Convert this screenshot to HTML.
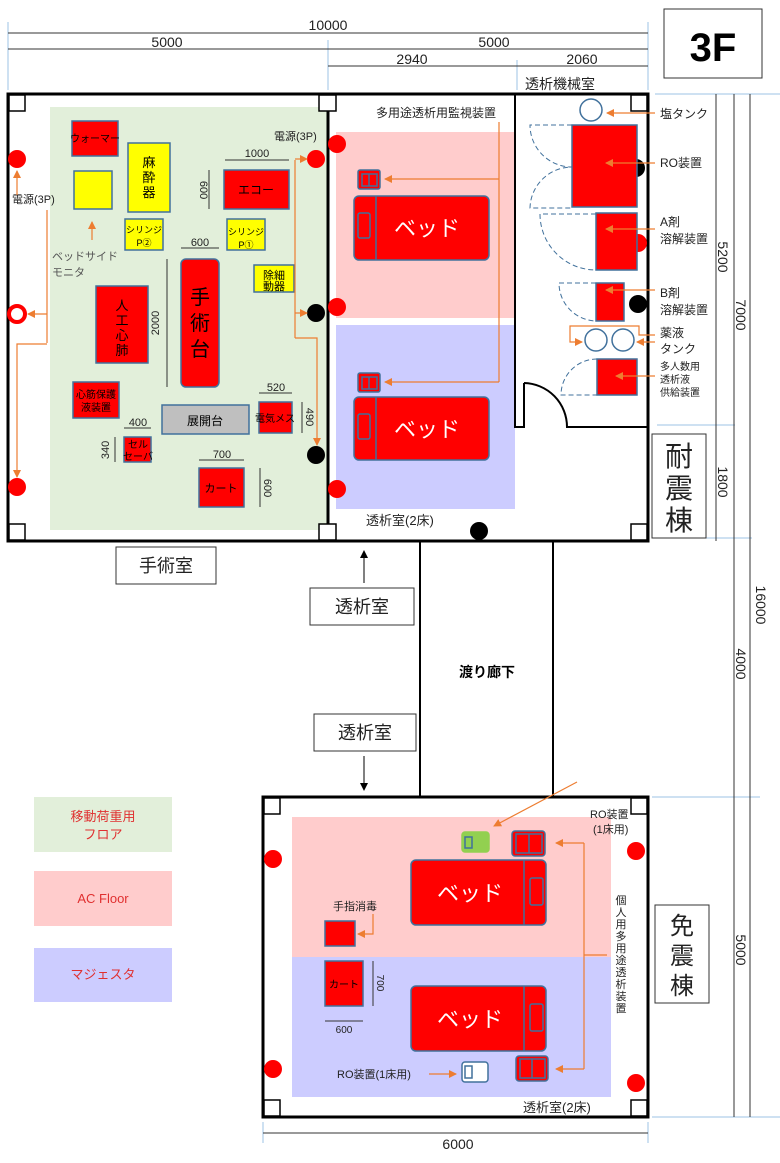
<!DOCTYPE html>
<html><head><meta charset="utf-8"><style>
body{margin:0;background:#fff}
svg{display:block}
text{font-family:"Liberation Sans","Noto Sans CJK JP",sans-serif}
</style></head><body>
<svg width="780" height="1163" viewBox="0 0 780 1163" xmlns="http://www.w3.org/2000/svg" fill="#222">
<defs>
<marker id="a" markerWidth="8" markerHeight="8" refX="7" refY="4" orient="auto" markerUnits="userSpaceOnUse"><path d="M0,0L8,4L0,8z" fill="#ed7d31"/></marker>
<marker id="k" markerWidth="8" markerHeight="8" refX="7" refY="4" orient="auto" markerUnits="userSpaceOnUse"><path d="M0,0L8,4L0,8z" fill="#000"/></marker>
</defs>
<g stroke="#9dc3e6" stroke-width="1">
<line x1="8" y1="22" x2="8" y2="90"/><line x1="328" y1="40" x2="328" y2="90"/><line x1="517" y1="60" x2="517" y2="90"/><line x1="648" y1="22" x2="648" y2="90"/>
<line x1="655" y1="94" x2="780" y2="94"/><line x1="657" y1="425" x2="735" y2="425"/><line x1="655" y1="538" x2="752" y2="538"/><line x1="652" y1="797" x2="760" y2="797"/><line x1="652" y1="1117" x2="780" y2="1117"/>
<line x1="263" y1="1122" x2="263" y2="1143"/><line x1="648" y1="1122" x2="648" y2="1143"/>
</g>
<g stroke="#333" stroke-width="1">
<line x1="8" y1="33" x2="648" y2="33"/><line x1="8" y1="49" x2="648" y2="49"/><line x1="328" y1="66" x2="648" y2="66"/>
<line x1="716" y1="94" x2="716" y2="541"/><line x1="734" y1="94" x2="734" y2="1117"/><line x1="750" y1="94" x2="750" y2="1117"/>
<line x1="263" y1="1133" x2="648" y2="1133"/>
</g>
<g font-size="14" text-anchor="middle">
<text x="328" y="30">10000</text><text x="167" y="47">5000</text><text x="494" y="47">5000</text>
<text x="412" y="64">2940</text><text x="582" y="64">2060</text>
<text x="560" y="89">透析機械室</text>
<text x="458" y="1149">6000</text>
</g>
<g font-size="14" text-anchor="middle">
<text transform="translate(718,257) rotate(90)">5200</text>
<text transform="translate(736,315) rotate(90)">7000</text>
<text transform="translate(718,482) rotate(90)">1800</text>
<text transform="translate(756,605) rotate(90)">16000</text>
<text transform="translate(736,664) rotate(90)">4000</text>
<text transform="translate(736,950) rotate(90)">5000</text>
</g>
<rect x="664" y="9" width="98" height="69" fill="#fff" stroke="#333"/>
<text x="713" y="61" font-size="40" font-weight="bold" text-anchor="middle" fill="#000">3F</text>
<rect x="652" y="434" width="54" height="104" fill="#fff" stroke="#333"/>
<g font-size="28" text-anchor="middle"><text x="679" y="466">耐</text><text x="679" y="498">震</text><text x="679" y="530">棟</text></g>
<rect x="655" y="905" width="54" height="98" fill="#fff" stroke="#333"/>
<g font-size="24" text-anchor="middle"><text x="682" y="934">免</text><text x="682" y="964">震</text><text x="682" y="994">棟</text></g>

<rect x="50" y="107" width="277" height="423" fill="#e2efda"/>
<rect x="336" y="132" width="179" height="186" fill="#ffcccc"/>
<rect x="336" y="325" width="179" height="184" fill="#ccccff"/>
<rect x="8" y="94" width="640" height="447" fill="none" stroke="#000" stroke-width="3"/>
<line x1="328" y1="94" x2="328" y2="541" stroke="#000" stroke-width="3"/>
<g fill="#fff" stroke="#000" stroke-width="1.5">
<rect x="9" y="95" width="16" height="16"/><rect x="319" y="95" width="17" height="16"/><rect x="631" y="95" width="16" height="16"/>
<rect x="9" y="524" width="16" height="16"/><rect x="319" y="524" width="17" height="16"/><rect x="631" y="524" width="16" height="16"/>
</g>
<path d="M515,94V427H524V383" fill="none" stroke="#000" stroke-width="2"/>
<path d="M524,383A44,44 0 0 1 567,427H648" fill="none" stroke="#000" stroke-width="2"/>

<g stroke="#41719c" stroke-width="1.5">
<rect x="72" y="121" width="46" height="35" fill="#f00"/>
<rect x="74" y="171" width="38" height="38" fill="#ff0"/>
<rect x="128" y="143" width="42" height="69" fill="#ff0"/>
<rect x="125" y="219" width="38" height="31" fill="#ff0"/>
<rect x="227" y="219" width="38" height="31" fill="#ff0"/>
<rect x="224" y="170" width="65" height="39" fill="#f00"/>
<rect x="181" y="259" width="38" height="128" rx="5" fill="#f00"/>
<rect x="254" y="265" width="40" height="27" fill="#ff0"/>
<rect x="96" y="286" width="52" height="77" fill="#f00"/>
<rect x="73" y="382" width="46" height="36" fill="#f00"/>
<rect x="162" y="405" width="87" height="29" fill="#bfbfbf"/>
<rect x="259" y="402" width="33" height="31" fill="#f00"/>
<rect x="124" y="437" width="27" height="25" fill="#f00"/>
<rect x="199" y="468" width="45" height="39" fill="#f00"/>
</g>
<g font-size="10" text-anchor="middle" fill="#000">
<text x="95" y="142">ウォーマー</text>
<text x="149" y="167" font-size="13">麻</text><text x="149" y="182" font-size="13">酔</text><text x="149" y="197" font-size="13">器</text>
<text x="144" y="233" font-size="9">シリンジ</text><text x="144" y="246" font-size="9">P②</text>
<text x="246" y="235" font-size="9">シリンジ</text><text x="246" y="248" font-size="9">P①</text>
<text x="256" y="194" font-size="12">エコー</text>
<text x="274" y="279" font-size="11">除細</text><text x="274" y="290" font-size="11">動器</text>
<text x="122" y="310" font-size="13">人</text><text x="122" y="325" font-size="13">工</text><text x="122" y="340" font-size="13">心</text><text x="122" y="355" font-size="13">肺</text>
<text x="200" y="304" font-size="20">手</text><text x="200" y="330" font-size="20">術</text><text x="200" y="356" font-size="20">台</text>
<text x="96" y="398">心筋保護</text><text x="96" y="411">液装置</text>
<text x="205" y="425" font-size="12">展開台</text>
<text x="275" y="422" font-size="10">電気メス</text>
<text x="138" y="448">セル</text><text x="138" y="460">セーバ</text>
<text x="221" y="492" font-size="11">カート</text>
</g>
<g stroke="#333" stroke-width="1">
<line x1="225" y1="160" x2="289" y2="160"/><line x1="209" y1="170" x2="209" y2="209"/>
<line x1="181" y1="248" x2="219" y2="248"/><line x1="167" y1="259" x2="167" y2="387"/>
<line x1="259" y1="393" x2="292" y2="393"/><line x1="302" y1="402" x2="302" y2="433"/>
<line x1="124" y1="428" x2="151" y2="428"/><line x1="115" y1="437" x2="115" y2="462"/>
<line x1="199" y1="460" x2="244" y2="460"/><line x1="260" y1="468" x2="260" y2="507"/>
</g>
<g font-size="11" text-anchor="middle">
<text x="257" y="157">1000</text><text x="200" y="246">600</text><text x="276" y="391">520</text><text x="138" y="426">400</text><text x="222" y="458">700</text>
<text transform="translate(200,190) rotate(90)">600</text>
<text transform="translate(159,323) rotate(-90)">2000</text>
<text transform="translate(306,417) rotate(90)">490</text>
<text transform="translate(109,450) rotate(-90)">340</text>
<text transform="translate(264,488) rotate(90)">600</text>
</g>
<g font-size="11"><text x="274" y="140">電源(3P)</text><text x="12" y="203">電源(3P)</text>
<text x="52" y="260" fill="#555">ベッドサイド</text><text x="52" y="276" fill="#555">モニタ</text></g>
<g fill="#f00"><circle cx="17" cy="159" r="9"/><circle cx="17" cy="487" r="9"/><circle cx="316" cy="159" r="9"/><circle cx="337" cy="144" r="9"/><circle cx="337" cy="307" r="9"/><circle cx="337" cy="489" r="9"/><circle cx="638" cy="243" r="9"/></g>
<circle cx="17" cy="314" r="8" fill="#fff" stroke="#f00" stroke-width="4"/>
<g fill="#000"><circle cx="316" cy="313" r="9"/><circle cx="316" cy="455" r="9"/><circle cx="479" cy="531" r="9"/><circle cx="636" cy="168" r="9"/><circle cx="638" cy="304" r="9"/></g>
<g stroke="#ed7d31" stroke-width="1.2" fill="none">
<line x1="17" y1="195" x2="17" y2="171" marker-end="url(#a)"/>
<path d="M47,210V343"/><line x1="47" y1="314" x2="28" y2="314" marker-end="url(#a)"/>
<path d="M47,344H17V477" marker-end="url(#a)"/>
<line x1="92" y1="240" x2="92" y2="222" marker-end="url(#a)"/>
<path d="M295,160V338"/><line x1="295" y1="159" x2="307" y2="159" marker-end="url(#a)"/><line x1="295" y1="313" x2="307" y2="313" marker-end="url(#a)"/>
<path d="M295,338H317V445" marker-end="url(#a)"/>
<path d="M499,122V382"/><line x1="499" y1="179" x2="385" y2="179" marker-end="url(#a)"/><line x1="499" y1="382" x2="385" y2="382" marker-end="url(#a)"/>
</g>
<text x="376" y="117" font-size="12">多用途透析用監視装置</text>
<g stroke="#41719c" stroke-width="1.5" fill="#f00">
<rect x="358" y="170" width="22" height="19" rx="2"/><path d="M369,174V186M362,174H377V186H362z" fill="none"/>
<rect x="354" y="196" width="135" height="64" rx="5"/><line x1="376" y1="196" x2="376" y2="260"/><rect x="358" y="213" width="12" height="25" rx="2"/>
<rect x="358" y="373" width="22" height="19" rx="2"/><path d="M369,377V389M362,377H377V389H362z" fill="none"/>
<rect x="354" y="397" width="135" height="63" rx="5"/><line x1="376" y1="397" x2="376" y2="460"/><rect x="358" y="414" width="12" height="25" rx="2"/>
</g>
<g font-size="22" fill="#fff" text-anchor="middle"><text x="427" y="236">ベッド</text><text x="427" y="437">ベッド</text></g>
<text x="366" y="525" font-size="13">透析室(2床)</text>
<g stroke="#41719c" stroke-width="1" stroke-dasharray="5,3" fill="none">
<path d="M572,125H530A42,42 0 0 0 572,167A42,42 0 0 0 530,208H572"/>
<path d="M596,214H540A56,56 0 0 0 596,270"/>
<path d="M596,283H559A38,38 0 0 0 596,321"/>
<path d="M597,359A36,36 0 0 0 561,395H597"/>
</g>
<g stroke="#41719c" stroke-width="1.5" fill="#f00">
<rect x="572" y="125" width="65" height="82"/><rect x="596" y="213" width="41" height="57"/><rect x="596" y="283" width="28" height="38"/><rect x="597" y="359" width="40" height="36"/>
</g>
<g stroke="#41719c" stroke-width="1.5" fill="#fff"><circle cx="591" cy="110" r="11"/><circle cx="596" cy="340" r="11"/><circle cx="623" cy="340" r="11"/></g>
<g stroke="#ed7d31" stroke-width="1.2" fill="none">
<line x1="655" y1="113" x2="607" y2="113" marker-end="url(#a)"/>
<line x1="655" y1="163" x2="606" y2="163" marker-end="url(#a)"/>
<line x1="655" y1="229" x2="606" y2="229" marker-end="url(#a)"/>
<line x1="655" y1="290" x2="606" y2="290" marker-end="url(#a)"/>
<path d="M655,335H639V326H570V342H582" marker-end="url(#a)"/>
<line x1="655" y1="342" x2="637" y2="342" marker-end="url(#a)"/>
<line x1="655" y1="376" x2="616" y2="376" marker-end="url(#a)"/>
</g>
<g font-size="12"><text x="660" y="118">塩タンク</text><text x="660" y="167">RO装置</text>
<text x="660" y="226">A剤</text><text x="660" y="243">溶解装置</text>
<text x="660" y="297">B剤</text><text x="660" y="314">溶解装置</text>
<text x="660" y="337">薬液</text><text x="660" y="353">タンク</text>
<text x="660" y="370" font-size="10">多人数用</text><text x="660" y="383" font-size="10">透析液</text><text x="660" y="396" font-size="10">供給装置</text></g>

<g stroke="#000" stroke-width="2"><line x1="420" y1="541" x2="420" y2="797"/><line x1="553" y1="541" x2="553" y2="797"/></g>
<text x="487" y="677" font-size="14" font-weight="bold" text-anchor="middle" fill="#000">渡り廊下</text>
<g fill="#fff" stroke="#333"><rect x="116" y="547" width="100" height="37"/><rect x="310" y="588" width="104" height="37"/><rect x="314" y="714" width="102" height="37"/></g>
<g font-size="18" text-anchor="middle"><text x="166" y="572">手術室</text><text x="362" y="613">透析室</text><text x="365" y="739">透析室</text></g>
<line x1="364" y1="583" x2="364" y2="551" stroke="#000" marker-end="url(#k)"/>
<line x1="364" y1="756" x2="364" y2="790" stroke="#000" marker-end="url(#k)"/>

<rect x="34" y="797" width="138" height="55" fill="#e2efda"/><rect x="34" y="871" width="138" height="55" fill="#ffcccc"/><rect x="34" y="948" width="138" height="54" fill="#ccccff"/>
<g font-size="13" text-anchor="middle" fill="#e03030"><text x="103" y="821">移動荷重用</text><text x="103" y="839">フロア</text><text x="103" y="903">AC Floor</text><text x="103" y="979">マジェスタ</text></g>

<rect x="292" y="817" width="319" height="140" fill="#ffcccc"/><rect x="292" y="957" width="319" height="140" fill="#ccccff"/>
<rect x="263" y="797" width="385" height="320" fill="none" stroke="#000" stroke-width="3"/>
<g fill="#fff" stroke="#000" stroke-width="1.5"><rect x="264" y="798" width="16" height="16"/><rect x="631" y="798" width="16" height="16"/><rect x="264" y="1100" width="16" height="16"/><rect x="631" y="1100" width="16" height="16"/></g>
<g fill="#f00"><circle cx="273" cy="859" r="9"/><circle cx="273" cy="1069" r="9"/><circle cx="636" cy="851" r="9"/><circle cx="636" cy="1083" r="9"/></g>
<g stroke="#41719c" stroke-width="1.5" fill="#f00">
<rect x="411" y="860" width="135" height="65" rx="5"/><line x1="524" y1="860" x2="524" y2="925"/><rect x="530" y="878" width="13" height="27" rx="2"/>
<rect x="411" y="986" width="135" height="65" rx="5"/><line x1="524" y1="986" x2="524" y2="1051"/><rect x="530" y="1004" width="13" height="27" rx="2"/>
<rect x="512" y="831" width="33" height="25" rx="3"/><path d="M529,834V853M516,834H542V853H516z" fill="none"/>
<rect x="516" y="1056" width="32" height="25" rx="3"/><path d="M532,1059V1078M520,1059H545V1078H520z" fill="none"/>
<rect x="325" y="921" width="30" height="25"/><rect x="325" y="961" width="38" height="45"/>
<rect x="462" y="832" width="27" height="20" rx="3" fill="#92d050" stroke="#92d050"/><rect x="465" y="837" width="7" height="11" fill="none"/>
<rect x="462" y="1062" width="26" height="20" rx="3" fill="#fff"/><rect x="465" y="1066" width="7" height="12" fill="none"/>
</g>
<g font-size="22" text-anchor="middle" fill="#fff"><text x="470" y="901">ベッド</text><text x="470" y="1027">ベッド</text></g>
<text x="344" y="988" font-size="10" text-anchor="middle" fill="#000">カート</text>
<g stroke="#333"><line x1="373" y1="961" x2="373" y2="1006"/><line x1="325" y1="1021" x2="363" y2="1021"/></g>
<text x="344" y="1033" font-size="10" text-anchor="middle">600</text>
<text transform="translate(377,983) rotate(90)" font-size="10" text-anchor="middle">700</text>
<text x="333" y="910" font-size="11">手指消毒</text>
<text x="337" y="1078" font-size="11">RO装置(1床用)</text>
<text x="590" y="818" font-size="11">RO装置</text><text x="593" y="833" font-size="11">(1床用)</text>
<text x="523" y="1112" font-size="13">透析室(2床)</text>
<g font-size="11" text-anchor="middle">
<text x="621" y="904">個</text><text x="621" y="916">人</text><text x="621" y="928">用</text><text x="621" y="940">多</text><text x="621" y="952">用</text><text x="621" y="964">途</text><text x="621" y="976">透</text><text x="621" y="988">析</text><text x="621" y="1000">装</text><text x="621" y="1012">置</text>
</g>
<g stroke="#ed7d31" stroke-width="1.2" fill="none">
<path d="M584,843V1069"/><line x1="584" y1="843" x2="556" y2="843" marker-end="url(#a)"/><line x1="584" y1="1069" x2="556" y2="1069" marker-end="url(#a)"/><line x1="584" y1="955" x2="607" y2="955"/>
<path d="M373,914V934H358" marker-end="url(#a)"/>
<line x1="429" y1="1074" x2="456" y2="1074" marker-end="url(#a)"/>
<line x1="577" y1="782" x2="494" y2="826" marker-end="url(#a)"/>
</g>
</svg>
</body></html>
